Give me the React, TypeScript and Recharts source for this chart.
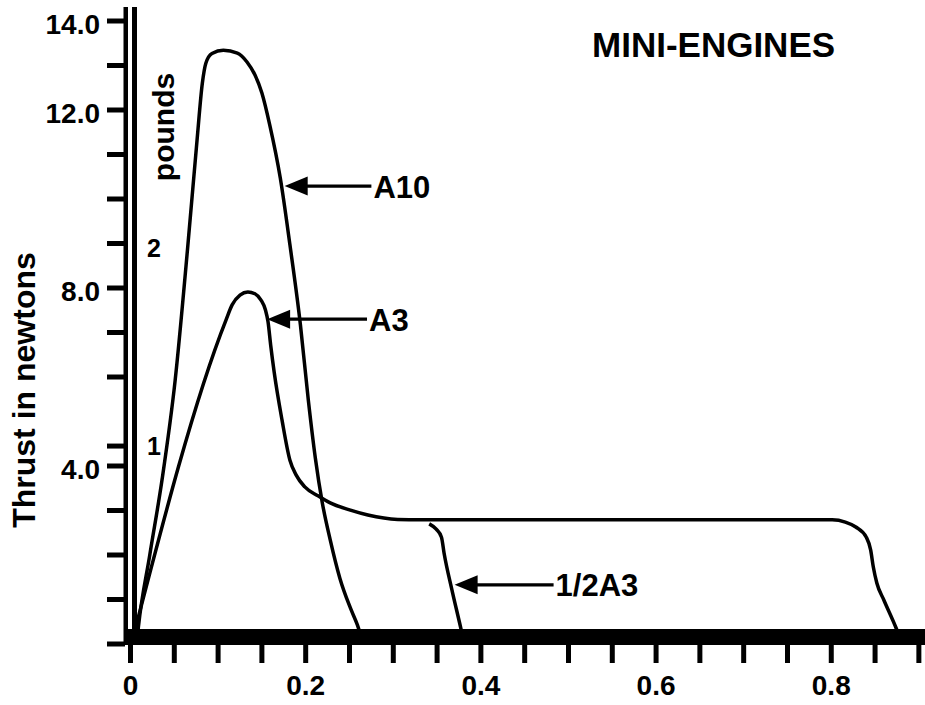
import React from "react";
import { LineChart, Line, XAxis, YAxis, ReferenceLine, Customized } from "recharts";

// burn time in seconds, thrust in newtons
const a10Time = [0.007, 0.009, 0.022, 0.036, 0.051, 0.065, 0.076, 0.082, 0.086, 0.093, 0.106, 0.122, 0.133, 0.142, 0.150, 0.159, 0.171, 0.182, 0.194, 0.203, 0.211, 0.219, 0.228, 0.239, 0.251, 0.259, 0.264, 0.267];
const a10Thrust = [0, 0.38, 2.0, 3.69, 5.93, 8.85, 11.33, 12.6, 13.05, 13.27, 13.34, 13.28, 13.08, 12.79, 12.38, 11.66, 10.47, 8.97, 7.17, 5.48, 4.18, 3.17, 2.34, 1.48, 0.81, 0.43, 0.13, 0];

const a3Time = [0.001, 0.109, 0.116, 0.125, 0.134, 0.142, 0.149, 0.154, 0.157, 0.160, 0.164, 0.173, 0.182, 0.189, 0.199, 0.214, 0.228, 0.251, 0.271, 0.305, 0.331, 0.536, 0.801, 0.816, 0.828, 0.840, 0.845, 0.848, 0.852, 0.860, 0.874, 0.881];
const a3Thrust = [0, 7.28, 7.62, 7.84, 7.91, 7.87, 7.73, 7.51, 7.24, 6.72, 6.11, 5.03, 4.13, 3.80, 3.53, 3.33, 3.17, 3.01, 2.90, 2.80, 2.79, 2.79, 2.79, 2.74, 2.63, 2.40, 2.11, 1.73, 1.37, 0.99, 0.36, 0];

const halfA3Time = [0.341, 0.349, 0.355, 0.358, 0.367, 0.377, 0.381];
const halfA3Thrust = [2.70, 2.58, 2.40, 2.04, 1.21, 0.36, 0];

const xTicks = [0, 0.05, 0.1, 0.15, 0.2, 0.25, 0.3, 0.35, 0.4, 0.45, 0.5, 0.55, 0.6, 0.65, 0.7, 0.75, 0.8, 0.85, 0.9];
const xLabels: Record<string, string> = { "0": "0", "0.2": "0.2", "0.4": "0.4", "0.6": "0.6", "0.8": "0.8" };

const N_PER_LB = 4.448;
const yTicks = [0, 1, 2, 3, 4, N_PER_LB, 6, 7, 8, 9, 10, 11, 12, 13, 14];
const yLabels: Record<string, string> = { "4": "4.0", "8": "8.0", "12": "12.0", "14": "14.0" };
const poundMarks = [1, 2];

const arrowLabels = ["A10", "A3", "1/2A3"];
const arrowThrust = [10.29, 7.3, 1.33];
const arrowTip = [0.176, 0.156, 0.37];
const arrowTail = [0.275, 0.27, 0.483];

const toRows = (t: number[], f: number[]) => t.map((v, i) => ({ t: v, f: f[i] }));
const a10 = toRows(a10Time, a10Thrust);
const a3 = toRows(a3Time, a3Thrust);
const halfA3 = toRows(halfA3Time, halfA3Thrust);

const FONT = "'Liberation Sans', Arial, Helvetica, sans-serif";
const W = 925;
const H = 705;
const PLOT_LEFT = 130.5;
const PLOT_TOP = 21;
const AXIS_H = 61;
const X_MAX = 0.907;

const XTick = (props: any) => {
  const { x, y, payload } = props;
  const label = xLabels[String(payload.value)];
  if (!label) return null;
  return (
    <text x={x} y={y + 32} textAnchor="middle" fontFamily={FONT} fontWeight="bold" fontSize={28} fill="#000">
      {label}
    </text>
  );
};

const YTick = (props: any) => {
  const { x, y, payload } = props;
  const label = yLabels[String(payload.value)];
  return (
    <g>
      <line x1={x - 23.5} y1={y} x2={x - 5.5} y2={y} stroke="#000" strokeWidth={5} />
      {label && (
        <text x={x - 30.5} y={y + 13} textAnchor="end" fontFamily={FONT} fontWeight="bold" fontSize={28} fill="#000">
          {label}
        </text>
      )}
    </g>
  );
};

const arrowShape = (label: string) => (p: any) => {
  const left = Math.min(p.x1, p.x2);
  const right = Math.max(p.x1, p.x2);
  const y = p.y1;
  return (
    <g>
      <line x1={left + 20} y1={y} x2={right} y2={y} stroke="#000" strokeWidth={3.3} />
      <polygon points={`${left},${y} ${left + 23},${y - 9.5} ${left + 23},${y + 9.5}`} fill="#000" />
      <text x={right + 2} y={y + 11.5} fontFamily={FONT} fontWeight="bold" fontSize={31} fill="#000">
        {label}
      </text>
    </g>
  );
};

const poundShape = (label: string) => (p: any) => (
  <text x={p.x1 + 23.5} y={p.y1 + 9} textAnchor="middle" fontFamily={FONT} fontWeight="bold" fontSize={25} fill="#000">
    {label}
  </text>
);

const plotBottom = H - AXIS_H;

const Decor = () => (
  <g>
    <rect x={123.5} y={7} width={4.5} height={plotBottom + 1 - 7} fill="#000" />
    <rect x={132} y={7} width={5} height={plotBottom + 1 - 7} fill="#000" />
    <rect x={127} y={plotBottom - 15} width={W - 127} height={16} fill="#000" />
    <text x={592} y={57} fontFamily={FONT} fontWeight="bold" fontSize={35} fill="#000">
      MINI-ENGINES
    </text>
    <text x={35} y={390} transform="rotate(-90 35 390)" textAnchor="middle" fontFamily={FONT} fontWeight="bold" fontSize={32} fill="#000">
      Thrust in newtons
    </text>
    <text x={174} y={127} transform="rotate(-90 174 127)" textAnchor="middle" fontFamily={FONT} fontWeight="bold" fontSize={30} fill="#000">
      pounds
    </text>
  </g>
);

export default function App() {
  return (
    <div style={{ position: "absolute", left: 0, top: 0, background: "#fff" }}>
      <LineChart width={W} height={H} margin={{ top: PLOT_TOP, right: 0, bottom: 0, left: 0 }}>
        <XAxis
          type="number"
          dataKey="t"
          domain={[0, X_MAX]}
          ticks={xTicks}
          allowDataOverflow
          height={AXIS_H}
          axisLine={false}
          tickLine={{ stroke: "#000", strokeWidth: 5 }}
          tickSize={19}
          tickMargin={0}
          tick={<XTick />}
          interval={0}
        />
        <YAxis
          type="number"
          domain={[0, 14]}
          ticks={yTicks}
          allowDataOverflow
          width={PLOT_LEFT}
          axisLine={false}
          tickLine={false}
          tickSize={0}
          tickMargin={0}
          tick={<YTick />}
          interval={0}
        />
        <Line data={a10} dataKey="f" type="monotone" stroke="#000" strokeWidth={3.5} dot={false} isAnimationActive={false} />
        <Line data={a3} dataKey="f" type="monotone" stroke="#000" strokeWidth={3.5} dot={false} isAnimationActive={false} />
        <Line data={halfA3} dataKey="f" type="monotone" stroke="#000" strokeWidth={3.5} dot={false} isAnimationActive={false} />
        {arrowLabels.map((label, i) => (
          <ReferenceLine
            key={label}
            segment={[
              { x: arrowTip[i], y: arrowThrust[i] },
              { x: arrowTail[i], y: arrowThrust[i] },
            ]}
            shape={arrowShape(label)}
            ifOverflow="visible"
          />
        ))}
        {poundMarks.map((lb) => (
          <ReferenceLine key={lb} y={lb * N_PER_LB} shape={poundShape(String(lb))} ifOverflow="visible" />
        ))}
        <Customized component={<Decor />} />
      </LineChart>
    </div>
  );
}
